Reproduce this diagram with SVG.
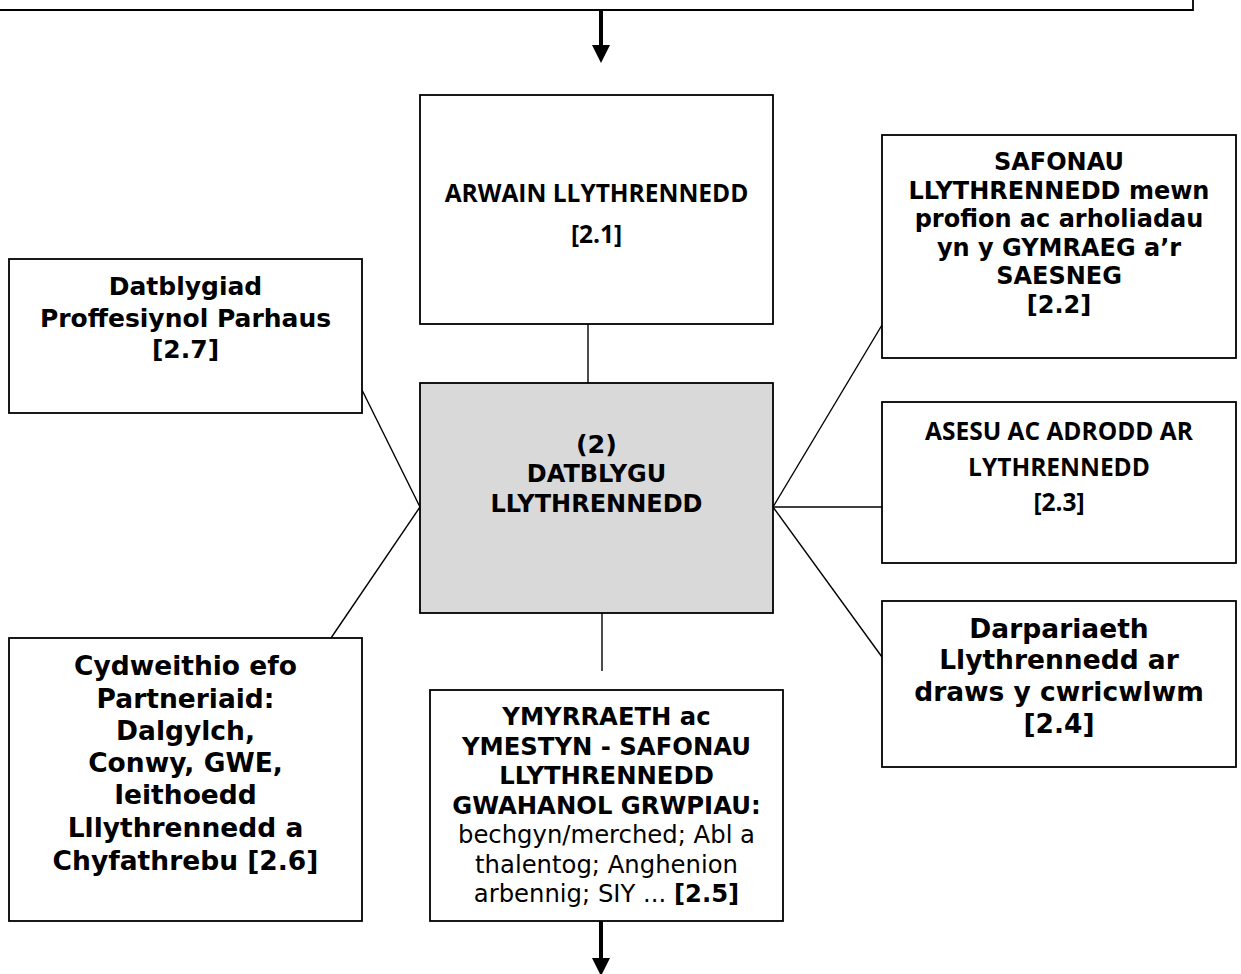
<svg xmlns="http://www.w3.org/2000/svg" width="1241" height="974" viewBox="0 0 1241 974">
<style>
.box{fill:#fff;stroke:#000;stroke-width:1.8}
.center{fill:#d9d9d9;stroke:#000;stroke-width:1.8}
.con{stroke:#000;stroke-width:1.4;fill:none}
.arr{stroke:#000;stroke-width:4;fill:none}
.v{font-family:"DejaVu Sans","Verdana",sans-serif;font-weight:bold;text-anchor:middle;fill:#000}
.c{font-family:"Open Sans","Noto Sans",sans-serif;font-weight:bold;text-anchor:middle;fill:#000}
.reg{font-weight:normal}
</style>
<defs>
<marker id="ah" markerUnits="userSpaceOnUse" markerWidth="18" markerHeight="18" viewBox="0 0 18 18" refX="0" refY="9" orient="auto">
<path d="M0,0 L18,9 L0,18 Z" fill="#000"/>
</marker>
</defs>
<g id="top-box">
<path class="box" d="M-5 10 H1193 V-5" fill="none"/>
</g>
<g id="connectors">
<line class="arr" x1="601" y1="10" x2="601" y2="45" marker-end="url(#ah)"/>
<line class="con" x1="588" y1="324" x2="588" y2="383"/>
<line class="con" x1="362" y1="390" x2="420" y2="507"/>
<line class="con" x1="420" y1="507" x2="331" y2="638"/>
<line class="con" x1="773" y1="507" x2="882" y2="325"/>
<line class="con" x1="773" y1="507" x2="882" y2="507"/>
<line class="con" x1="773" y1="507" x2="882" y2="657"/>
<line class="con" x1="602" y1="613" x2="602" y2="671"/>
<line class="arr" x1="601" y1="921" x2="601" y2="958" marker-end="url(#ah)"/>
</g>
<g id="node-2-1">
<rect class="box" x="420" y="95" width="353" height="229"/>
<text class="c" font-size="24.5" x="596.5" y="202">ARWAIN LLYTHRENNEDD</text>
<text class="c" font-size="24.5" x="596.5" y="243">[2.1]</text>
</g>
<g id="node-2">
<rect class="center" x="420" y="383" width="353" height="230"/>
<text class="v" font-size="25.5" x="596.5" y="453">(2)</text>
<text class="v" font-size="24" x="596.5" y="482">DATBLYGU</text>
<text class="v" font-size="24" x="596.5" y="512">LLYTHRENNEDD</text>
</g>
<g id="node-2-2">
<rect class="box" x="882" y="135" width="354" height="223"/>
<text class="v" font-size="24" x="1059" y="170">SAFONAU</text>
<text class="v" font-size="24" x="1059" y="198.5">LLYTHRENNEDD mewn</text>
<text class="v" font-size="24" x="1059" y="227">profion ac arholiadau</text>
<text class="v" font-size="24" x="1059" y="255.5">yn y GYMRAEG a’r</text>
<text class="v" font-size="24" x="1059" y="284">SAESNEG</text>
<text class="v" font-size="24" x="1059" y="312.5">[2.2]</text>
</g>
<g id="node-2-3">
<rect class="box" x="882" y="402" width="354" height="161"/>
<text class="c" font-size="24.5" x="1059" y="440">ASESU AC ADRODD AR</text>
<text class="c" font-size="24.5" x="1059" y="476">LYTHRENNEDD</text>
<text class="c" font-size="24.5" x="1059" y="511">[2.3]</text>
</g>
<g id="node-2-4">
<rect class="box" x="882" y="601" width="354" height="166"/>
<text class="v" font-size="26.5" x="1059" y="638">Darpariaeth</text>
<text class="v" font-size="26.5" x="1059" y="669">Llythrennedd ar</text>
<text class="v" font-size="26.5" x="1059" y="701">draws y cwricwlwm</text>
<text class="v" font-size="26.5" x="1059" y="733">[2.4]</text>
</g>
<g id="node-2-5">
<rect class="box" x="430" y="690" width="353" height="231"/>
<text class="v" font-size="24.3" x="606.5" y="725">YMYRRAETH ac</text>
<text class="v" font-size="24.3" x="606.5" y="754.5">YMESTYN - SAFONAU</text>
<text class="v" font-size="24.3" x="606.5" y="784">LLYTHRENNEDD</text>
<text class="v" font-size="24.3" x="606.5" y="813.5">GWAHANOL GRWPIAU:</text>
<text class="v reg" font-size="24.3" x="606.5" y="843">bechgyn/merched; Abl a</text>
<text class="v reg" font-size="24.3" x="606.5" y="872.5">thalentog; Anghenion</text>
<text class="v" font-size="24.3" x="606.5" y="902"><tspan class="reg">arbennig; SIY ... </tspan>[2.5]</text>
</g>
<g id="node-2-6">
<rect class="box" x="9" y="638" width="353" height="283"/>
<text class="v" font-size="26.5" x="185.5" y="675">Cydweithio efo</text>
<text class="v" font-size="26.5" x="185.5" y="707.5">Partneriaid:</text>
<text class="v" font-size="26.5" x="185.5" y="740">Dalgylch,</text>
<text class="v" font-size="26.5" x="185.5" y="772">Conwy, GWE,</text>
<text class="v" font-size="26.5" x="185.5" y="804">Ieithoedd</text>
<text class="v" font-size="26.5" x="185.5" y="837">Lllythrennedd a</text>
<text class="v" font-size="26.5" x="185.5" y="869.5">Chyfathrebu [2.6]</text>
</g>
<g id="node-2-7">
<rect class="box" x="9" y="259" width="353" height="154"/>
<text class="v" font-size="25" x="185.5" y="295">Datblygiad</text>
<text class="v" font-size="25" x="185.5" y="327">Proffesiynol Parhaus</text>
<text class="v" font-size="25" x="185.5" y="358">[2.7]</text>
</g>
</svg>
